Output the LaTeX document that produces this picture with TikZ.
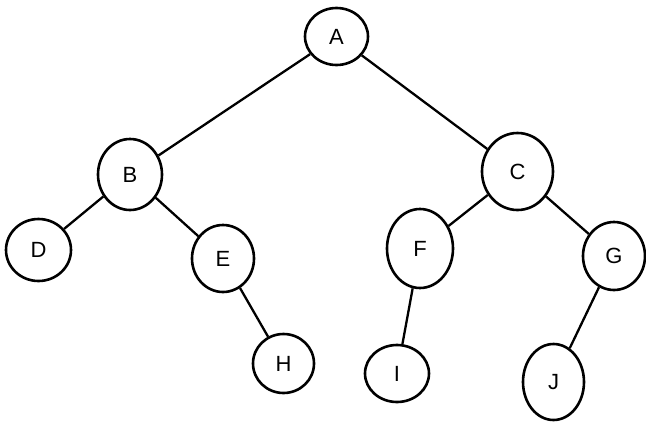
\documentclass[tikz,border=0pt]{standalone}
\usepackage{fontspec}
\setsansfont{Liberation Sans}
\usetikzlibrary{shapes.geometric}
\begin{document}
\begin{tikzpicture}[x=1pt,y=-1pt,
  tnode/.style={draw=black, line width=2.6pt, ellipse, inner sep=0pt, fill=white,
    font=\fontsize{22}{24}\selectfont\sffamily},
  tedge/.style={draw=black, line width=2.3pt}]
\useasboundingbox (0,0) rectangle (646,421);
\node[tnode, minimum width=63pt, minimum height=57pt] (A) at (336.5,36.5) {A};
\node[tnode, minimum width=64pt, minimum height=71pt] (B) at (130,174.5) {B};
\node[tnode, minimum width=71pt, minimum height=77pt] (C) at (517.5,171.5) {C};
\node[tnode, minimum width=65pt, minimum height=62pt] (D) at (38.5,250) {D};
\node[tnode, minimum width=62pt, minimum height=67pt] (E) at (223,258.5) {E};
\node[tnode, minimum width=66pt, minimum height=79pt] (F) at (420,248.5) {F};
\node[tnode, minimum width=62pt, minimum height=68pt] (G) at (614,256) {G};
\node[tnode, minimum width=61pt, minimum height=59pt] (H) at (283.5,363.5) {H};
\node[tnode, minimum width=64pt, minimum height=57pt] (I) at (397,373.5) {I};
\node[tnode, minimum width=61pt, minimum height=76pt] (J) at (553.5,382) {J};
\draw[tedge] (A) -- (B);
\draw[tedge] (A) -- (C);
\draw[tedge] (B) -- (D);
\draw[tedge] (B) -- (E);
\draw[tedge] (C) -- (F);
\draw[tedge] (C) -- (G);
\draw[tedge] (E) -- (H);
\draw[tedge] (F) -- (I);
\draw[tedge] (G) -- (J);
\end{tikzpicture}
\end{document}
